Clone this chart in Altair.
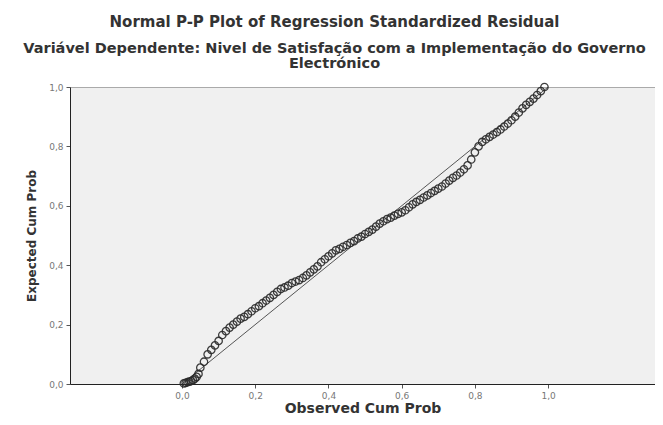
import altair as alt
import pandas as pd

observed = [0.005, 0.010, 0.015, 0.020, 0.025, 0.030, 0.035, 0.040, 0.045,
            0.05, 0.06, 0.07, 0.08, 0.09, 0.10, 0.11, 0.12, 0.13, 0.14, 0.15,
            0.16, 0.17, 0.18, 0.19, 0.20, 0.21, 0.22, 0.23, 0.24, 0.25,
            0.26, 0.27, 0.28, 0.29, 0.30, 0.31, 0.32, 0.33, 0.34, 0.35,
            0.36, 0.37, 0.38, 0.39, 0.40, 0.41, 0.42, 0.43, 0.44, 0.45,
            0.46, 0.47, 0.48, 0.49, 0.50, 0.51, 0.52, 0.53, 0.54, 0.55,
            0.56, 0.57, 0.58, 0.59, 0.60, 0.61, 0.62, 0.63, 0.64, 0.65,
            0.66, 0.67, 0.68, 0.69, 0.70, 0.71, 0.72, 0.73, 0.74, 0.75,
            0.76, 0.77, 0.78, 0.79, 0.80, 0.81, 0.82, 0.83, 0.84, 0.85,
            0.86, 0.87, 0.88, 0.89, 0.90, 0.91, 0.92, 0.93, 0.94, 0.95,
            0.96, 0.97, 0.98, 0.99]
expected = [0.002, 0.004, 0.006, 0.008, 0.010, 0.013, 0.018, 0.024, 0.034,
            0.055, 0.075, 0.100, 0.115, 0.130, 0.145, 0.165, 0.178, 0.190, 0.200, 0.210,
            0.220, 0.226, 0.235, 0.245, 0.255, 0.262, 0.272, 0.281, 0.290, 0.300,
            0.310, 0.320, 0.325, 0.331, 0.340, 0.345, 0.350, 0.357, 0.366, 0.376,
            0.386, 0.396, 0.410, 0.420, 0.430, 0.440, 0.450, 0.455, 0.462, 0.468,
            0.475, 0.481, 0.490, 0.496, 0.505, 0.512, 0.520, 0.530, 0.540, 0.548,
            0.555, 0.560, 0.567, 0.573, 0.578, 0.585, 0.595, 0.605, 0.613, 0.620,
            0.628, 0.635, 0.643, 0.650, 0.658, 0.665, 0.675, 0.685, 0.694, 0.702,
            0.712, 0.723, 0.736, 0.756, 0.780, 0.800, 0.815, 0.824, 0.832, 0.840,
            0.848, 0.857, 0.867, 0.877, 0.888, 0.900, 0.914, 0.928, 0.940, 0.950,
            0.961, 0.973, 0.986, 1.000]

diag_x = [0.0, 1.0]
diag_y = [0.0, 1.0]
tick_values = [0.0, 0.2, 0.4, 0.6, 0.8, 1.0]

pts = pd.DataFrame({"obs": observed, "exp": expected})
diag = pd.DataFrame({"obs": diag_x, "exp": diag_y})

label_expr = "replace(format(datum.value, '.1f'), '.', ',')"

xscale = alt.Scale(domain=[-0.306, 1.292], nice=False, zero=False)
yscale = alt.Scale(domain=[0, 1], nice=False)

xaxis = alt.Axis(values=tick_values, labelExpr=label_expr, title="Observed Cum Prob",
                 grid=False, domainColor="#222", tickColor="#555", tickSize=4,
                 labelColor="#777", labelFontSize=9, labelFont="DejaVu Sans",
                 titleFont="DejaVu Sans", titleFontSize=14, titleFontWeight="bold",
                 titleColor="#333", titlePadding=1, labelPadding=3)
yaxis = alt.Axis(values=tick_values, labelExpr=label_expr, title="Expected Cum Prob",
                 grid=False, domainColor="#222", tickColor="#555", tickSize=4,
                 labelColor="#777", labelFontSize=9, labelFont="DejaVu Sans",
                 titleFont="DejaVu Sans", titleFontSize=12, titleFontWeight="bold",
                 titleColor="#333", titlePadding=10, labelPadding=3)

line = alt.Chart(diag).mark_line(color="#555", strokeWidth=1).encode(
    x=alt.X("obs:Q", scale=xscale, axis=xaxis),
    y=alt.Y("exp:Q", scale=yscale, axis=yaxis),
)

points = alt.Chart(pts).mark_point(shape="circle", filled=False, color="#2a2a2a",
                                   strokeWidth=1.3, size=55, opacity=0.9).encode(
    x=alt.X("obs:Q", scale=xscale),
    y=alt.Y("exp:Q", scale=yscale),
)

chart = alt.layer(line, points).properties(
    width=585,
    height=297,
    title=alt.Title(
        text="Normal P-P Plot of Regression Standardized Residual",
        subtitle=["Variável Dependente: Nivel de Satisfação com a Implementação do Governo",
                  "Electrónico"],
        anchor="middle",
        dx=-28,
        font="DejaVu Sans",
        fontSize=15,
        fontWeight="bold",
        color="#333",
        subtitleFont="DejaVu Sans",
        subtitleFontSize=14.5,
        subtitleFontWeight="bold",
        subtitleColor="#333",
        subtitlePadding=12,
        subtitleLineHeight=15,
        offset=10,
    ),
    autosize=alt.AutoSizeParams(type="none"),
    padding={"left": 62, "top": 79, "right": 0, "bottom": 33},
    background="white",
).configure_view(fill="#f0f0f0", stroke="#aaaaaa", strokeWidth=1)

chart.save("out.html", embed_options={"renderer": "svg", "actions": False})
